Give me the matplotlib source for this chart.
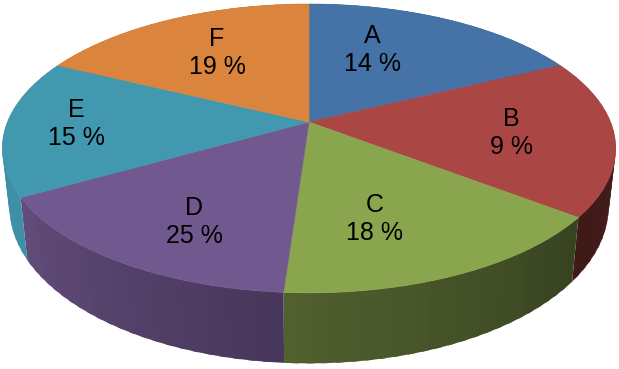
import matplotlib
matplotlib.use("Agg")
import matplotlib.pyplot as plt
import matplotlib.colors as mcolors
import numpy as np

plt.rcParams['font.family'] = ['Liberation Sans', 'DejaVu Sans']

categories = ["A", "B", "C", "D", "E", "F"]
# labels printed on the chart do not agree with the slice sizes drawn
printed_pct = [14, 9, 18, 25, 15, 19]
slice_share = [17.8, 17.6, 15.7, 15.7, 15.4, 17.8]

colors = ["#4572A7", "#AA4643", "#89A54E", "#71588F", "#4198AF", "#DB843D"]
# side wall colour at the clockwise start and end of each slice
side_start = ["#2b4566", "#4c1e1c", "#384320", "#47375a", "#3d90a8", "#8a5326"]
side_end = ["#2b4566", "#3f1a19", "#50602f", "#624c7a", "#3b8ea6", "#8a5326"]

label_x = [372, 511, 375, 194, 76, 217]
label_y = [50, 133, 219, 222, 124, 53]

cx, cy = 309, 122


def project(ang):
    # circle seen in perspective, apex is above the middle of the ellipse
    x = np.sin(ang)
    y = -np.cos(ang)
    k = -0.183
    w = 1 + k * y
    return cx + 301.5 * x / w, cy + 139.6 * y / w


def project_bottom(ang):
    px, py = project(ang)
    return cx + (px - cx) * 0.977, cy + (py - cy) * 1.084 + 56.2


fig = plt.figure(figsize=(6.19, 3.69), dpi=100)
ax = fig.add_axes([0, 0, 1, 1])
ax.set_xlim(0, 619)
ax.set_ylim(369, 0)
ax.axis("off")

edges = np.radians(np.cumsum([0] + slice_share) * 3.6)

# side wall first, the top covers the part that is hidden
for i in range(len(categories)):
    c0 = np.array(mcolors.to_rgb(side_start[i]))
    c1 = np.array(mcolors.to_rgb(side_end[i]))
    steps = np.linspace(edges[i], edges[i + 1], 25)
    for j in range(len(steps) - 1):
        col = c0 + (c1 - c0) * j / (len(steps) - 2)
        # overlap into the next strip so no seams show
        seg = np.array([steps[j], min(steps[j + 1] + 0.02, edges[i + 1])])
        tx, ty = project(seg)
        bx, by = project_bottom(seg)
        ax.fill([tx[0], tx[1], bx[1], bx[0]], [ty[0], ty[1], by[1], by[0]],
                color=col, lw=0, zorder=1)

for i in range(len(categories)):
    ang = np.linspace(edges[i], edges[i + 1], 120)
    px, py = project(ang)
    ax.fill(np.r_[cx, px], np.r_[cy, py], color=colors[i], lw=0.4, zorder=2)

for i in range(len(categories)):
    ax.text(label_x[i], label_y[i], f"{categories[i]}\n{printed_pct[i]} %", ha="center",
            va="center", fontsize=18, linespacing=1.25, color="black", zorder=3)

plt.savefig("out.png", dpi=100)
